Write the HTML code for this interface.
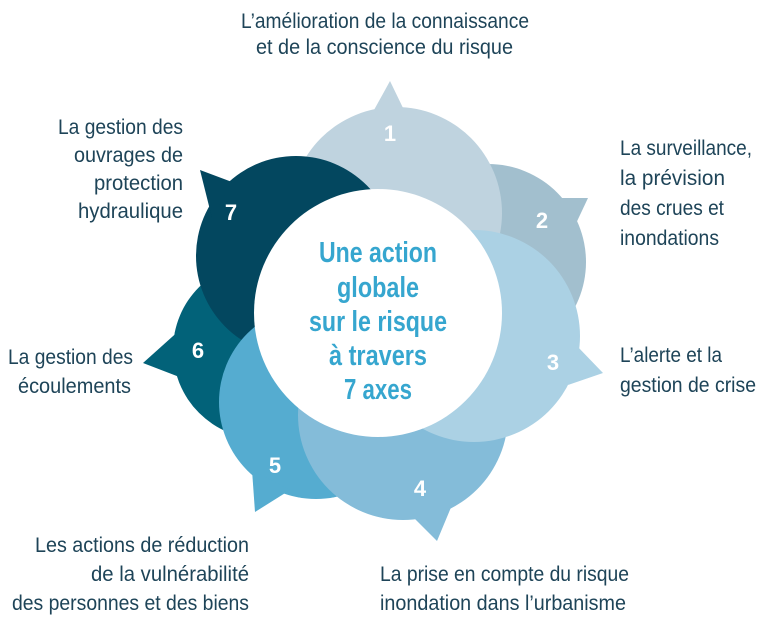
<!DOCTYPE html>
<html><head><meta charset="utf-8"><style>
html,body{margin:0;padding:0;background:#fff;}
svg{display:block;}
.l{font-family:"Liberation Sans",sans-serif;font-size:21px;fill:#1e4458;}
.c{font-family:"Liberation Sans",sans-serif;font-size:29px;font-weight:bold;fill:#36a6cf;}
.n{font-family:"Liberation Sans",sans-serif;font-size:22px;font-weight:bold;fill:#fff;}
</style></head><body>
<svg width="768" height="620" viewBox="0 0 768 620" xmlns="http://www.w3.org/2000/svg">
<!-- 2 -->
<g fill="#a2bfce"><circle cx="488" cy="262" r="98"/><polygon points="555,198 588,198 572,232"/></g>
<!-- 1 -->
<g fill="#bfd3df"><circle cx="396" cy="213" r="106"/><polygon points="374,110 390,81 404,110"/></g>
<!-- 6 -->
<g fill="#026279"><circle cx="262" cy="350" r="89"/><polygon points="182,328 143,363 182,378"/></g>
<!-- 7 -->
<g fill="#03475f"><circle cx="296" cy="256" r="100"/><polygon points="232,182 200,170 212,218"/></g>
<!-- 5 -->
<g fill="#55acd0"><circle cx="316" cy="402" r="97"/><polygon points="252,470 255,512 290,490"/></g>
<!-- 4 -->
<g fill="#84bcd9"><circle cx="403" cy="415" r="105"/><polygon points="408,512 437,541 452,505"/></g>
<!-- 3 -->
<g fill="#abd1e4"><circle cx="474" cy="336" r="106"/><polygon points="576,345 603,373 568,385"/></g>
<!-- center -->
<circle cx="378" cy="313" r="124" fill="#fff"/>
<text class="n" x="390" y="141" text-anchor="middle">1</text>
<text class="n" x="542" y="228" text-anchor="middle">2</text>
<text class="n" x="553" y="370" text-anchor="middle">3</text>
<text class="n" x="420" y="496" text-anchor="middle">4</text>
<text class="n" x="275" y="473" text-anchor="middle">5</text>
<text class="n" x="198" y="358" text-anchor="middle">6</text>
<text class="n" x="231" y="220" text-anchor="middle">7</text>
<g class="c" text-anchor="middle">
<text x="378" y="262" textLength="118" lengthAdjust="spacingAndGlyphs">Une action</text>
<text x="378" y="297" textLength="82" lengthAdjust="spacingAndGlyphs">globale</text>
<text x="378" y="331" textLength="138" lengthAdjust="spacingAndGlyphs">sur le risque</text>
<text x="378" y="365" textLength="98" lengthAdjust="spacingAndGlyphs">à travers</text>
<text x="378" y="399" textLength="68" lengthAdjust="spacingAndGlyphs">7 axes</text>
</g>
<g class="l">
<text x="241" y="28" textLength="288" lengthAdjust="spacingAndGlyphs">L’amélioration de la connaissance</text>
<text x="256" y="54" textLength="257" lengthAdjust="spacingAndGlyphs">et de la conscience du risque</text>
<text x="620" y="155" textLength="132" lengthAdjust="spacingAndGlyphs">La surveillance,</text>
<text x="620" y="185" textLength="105" lengthAdjust="spacingAndGlyphs">la prévision</text>
<text x="620" y="215" textLength="104" lengthAdjust="spacingAndGlyphs">des crues et</text>
<text x="620" y="245" textLength="99" lengthAdjust="spacingAndGlyphs">inondations</text>
<text x="620" y="362" textLength="102" lengthAdjust="spacingAndGlyphs">L’alerte et la</text>
<text x="620" y="392" textLength="136" lengthAdjust="spacingAndGlyphs">gestion de crise</text>
<text x="380" y="581" textLength="249" lengthAdjust="spacingAndGlyphs">La prise en compte du risque</text>
<text x="380" y="610" textLength="246" lengthAdjust="spacingAndGlyphs">inondation dans l’urbanisme</text>
<text x="35" y="552" textLength="214" lengthAdjust="spacingAndGlyphs">Les actions de réduction</text>
<text x="91" y="581" textLength="158" lengthAdjust="spacingAndGlyphs">de la vulnérabilité</text>
<text x="12" y="610" textLength="237" lengthAdjust="spacingAndGlyphs">des personnes et des biens</text>
<text x="8" y="364" textLength="125" lengthAdjust="spacingAndGlyphs">La gestion des</text>
<text x="18" y="393" textLength="113" lengthAdjust="spacingAndGlyphs">écoulements</text>
<text x="58" y="134" textLength="125" lengthAdjust="spacingAndGlyphs">La gestion des</text>
<text x="74" y="162" textLength="109" lengthAdjust="spacingAndGlyphs">ouvrages de</text>
<text x="94" y="190" textLength="89" lengthAdjust="spacingAndGlyphs">protection</text>
<text x="78" y="218" textLength="105" lengthAdjust="spacingAndGlyphs">hydraulique</text>
</g>
</svg>
</body></html>
